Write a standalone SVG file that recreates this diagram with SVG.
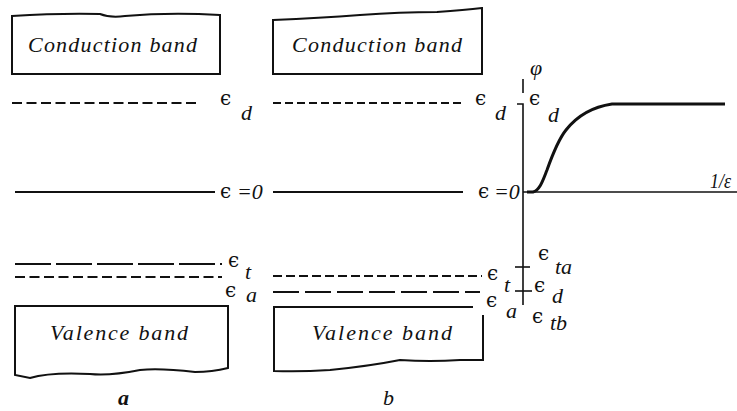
<svg xmlns="http://www.w3.org/2000/svg" width="737" height="411" viewBox="0 0 737 411">
<style>
.box{fill:none;stroke:#111;stroke-width:2}
.ln{fill:none;stroke:#111;stroke-width:2}
.ax{fill:none;stroke:#111;stroke-width:1.6}
.band{font-family:"Liberation Serif","DejaVu Serif",serif;font-style:italic;font-size:22px;fill:#111}
.eps{font-family:"DejaVu Serif",serif;font-size:20px;fill:#111}
.sub{font-family:"Liberation Serif","DejaVu Serif",serif;font-style:italic;font-size:22px;fill:#111}
</style>
<rect width="737" height="411" fill="#fff"/>

<g id="panel-a">
  <g id="a-conduction">
    <path class="box" d="M12,74 L12,16 Q60,13 100,14 Q110,18 125,16 Q170,12 220,15 L220,74 Z"/>
    <text class="band" x="28" y="52" textLength="169" lengthAdjust="spacing">Conduction band</text>
  </g>
  <g id="a-ed">
    <line class="ln" x1="12" y1="103" x2="200" y2="103" stroke-dasharray="10 4.5"/>
    <text class="eps" x="220" y="105">ϵ</text>
    <text class="sub" x="241" y="120">d</text>
  </g>
  <g id="a-e0">
    <line class="ln" x1="15" y1="192" x2="215" y2="192"/>
    <text class="eps" x="220" y="198">ϵ</text>
    <text class="sub" x="237" y="199">=0</text>
  </g>
  <g id="a-et">
    <line class="ln" x1="15" y1="264" x2="222" y2="264" stroke-dasharray="36 5"/>
    <text class="eps" x="228" y="267">ϵ</text>
    <text class="sub" x="245" y="279">t</text>
  </g>
  <g id="a-ea">
    <line class="ln" x1="15" y1="277" x2="222" y2="277" stroke-dasharray="10 4.5"/>
    <text class="eps" x="225" y="297">ϵ</text>
    <text class="sub" x="246" y="302">a</text>
  </g>
  <g id="a-valence">
    <path class="box" d="M15,306 L228,306 L228,368 Q212,372 195,372 Q160,368 140,370 Q110,376 90,374 Q50,372 30,378 Q20,376 15,375 Z"/>
    <text class="band" x="50" y="340" textLength="138" lengthAdjust="spacing">Valence band</text>
  </g>
  <text id="label-a" class="sub" x="118" y="405" font-weight="bold">a</text>
</g>

<g id="panel-b">
  <g id="b-conduction">
    <path class="box" d="M273,74 L273,20 Q320,18 360,15 Q400,12 437,12 Q465,10 482,8 L482,74 Z"/>
    <text class="band" x="292" y="52" textLength="170" lengthAdjust="spacing">Conduction band</text>
  </g>
  <g id="b-ed">
    <line class="ln" x1="273" y1="103" x2="465" y2="103" stroke-dasharray="8 4"/>
    <text class="eps" x="475" y="105">ϵ</text>
    <text class="sub" x="495" y="120">d</text>
  </g>
  <g id="b-e0">
    <line class="ln" x1="273" y1="192" x2="463" y2="192"/>
    <text class="eps" x="478" y="198">ϵ</text>
    <text class="sub" x="494" y="199">=0</text>
  </g>
  <g id="b-et">
    <line class="ln" x1="273" y1="276" x2="482" y2="276" stroke-dasharray="9 4"/>
    <text class="eps" x="487" y="280">ϵ</text>
    <text class="sub" x="504" y="292">t</text>
  </g>
  <g id="b-ea">
    <line class="ln" x1="273" y1="292" x2="480" y2="292" stroke-dasharray="26 6"/>
    <text class="eps" x="486" y="307">ϵ</text>
    <text class="sub" x="506" y="318">a</text>
  </g>
  <g id="b-valence">
    <path class="box" d="M473,307 L274,307 L274,371 Q300,372 330,370 Q370,366 400,360 Q430,362 460,360 L483,360 L483,315"/>
    <text class="band" x="312" y="340" textLength="140" lengthAdjust="spacing">Valence band</text>
  </g>
  <text id="label-b" class="sub" x="383" y="405">b</text>
</g>

<g id="panel-c">
  <g id="axes">
    <line class="ax" x1="523" y1="79" x2="523" y2="93"/>
    <path class="ax" d="M517,104 L523,104 L523,305"/>
    <line class="ax" x1="523" y1="192" x2="737" y2="192"/>
    <line class="ax" x1="515" y1="267" x2="530" y2="267"/>
    <line class="ax" x1="515" y1="291" x2="532" y2="291"/>
    <text class="sub" x="530" y="75" font-size="19">φ</text>
    <text class="sub" x="710" y="188" font-size="17" textLength="21" lengthAdjust="spacingAndGlyphs">1/ε</text>
  </g>
  <g id="curve">
    <path fill="none" stroke="#111" stroke-width="3" d="M527,192 L533,192 C540,190 543,180 547,170 C552,156 558,140 566,130 C577,116 592,107 612,104 L725,104"/>
  </g>
  <g id="c-labels">
    <text class="eps" x="529" y="105">ϵ</text>
    <text class="sub" x="548" y="122">d</text>
    <text class="eps" x="538" y="260">ϵ</text>
    <text class="sub" x="555" y="274">ta</text>
    <text class="eps" x="534" y="292">ϵ</text>
    <text class="sub" x="552" y="303">d</text>
    <text class="eps" x="532" y="323">ϵ</text>
    <text class="sub" x="550" y="330">tb</text>
  </g>
</g>
</svg>
